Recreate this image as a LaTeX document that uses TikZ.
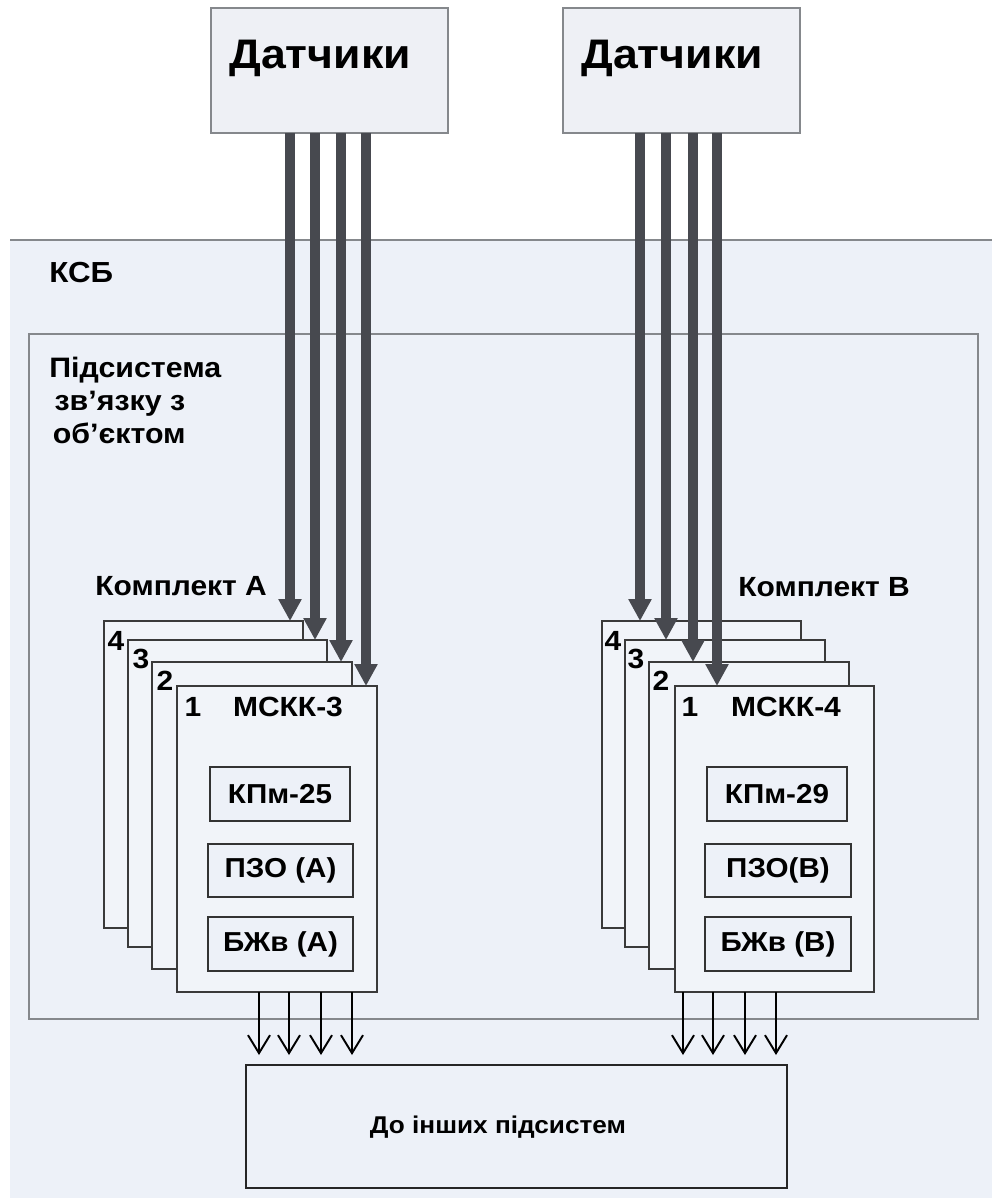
\documentclass[tikz,border=0pt]{standalone}
\usepackage{fontspec}
\setmainfont{Liberation Sans}[FakeStretch=1.08]
\usetikzlibrary{arrows.meta}
\definecolor{ksbfill}{HTML}{EDF1F8}
\definecolor{boxfill}{HTML}{EEF0F5}
\definecolor{cardfill}{HTML}{F1F4F9}
\definecolor{gline}{HTML}{85888C}
\definecolor{dk}{HTML}{47494F}
\definecolor{cardline}{HTML}{3A3A3A}
\newcommand{\rbox}[7]{\node[#1, minimum width={(#5-#3)*0.02cm}, minimum height={(#6-#4)*0.02cm}] (#2) at ({(#3+#5)/2},{(#4+#6)/2}) {#7};}
\tikzset{
  base/.style={inner sep=0pt, outer sep=0pt},
  ksb/.style={base, fill=ksbfill, draw=none},
  subsys/.style={base, draw=gline, line width=1.6pt},
  sensor/.style={base, draw=gline, line width=1.4pt, fill=boxfill},
  card/.style={base, draw=cardline, line width=0.9pt, fill=cardfill},
  inbox/.style={base, draw=black!80, line width=1.1pt, fill=ksbfill, font=\bfseries\fontsize{15.6}{18}\selectfont},
  outbox/.style={base, draw=black!85, line width=1.1pt},
  lbl/.style={inner sep=0pt, font=\bfseries\fontsize{15.8}{18}\selectfont},
  biglbl/.style={inner sep=0pt, font=\bfseries\fontsize{23.5}{28}\selectfont},
  bigarrow/.style={dk, line width=0.19cm, -{Triangle[length=0.44cm,width=0.44cm]}},
  outarrow/.style={black, line width=1.1pt, -{Straight Barb[length=0.36cm,width=0.44cm]}}
}
\begin{document}
\begin{tikzpicture}[x=0.02cm, y=-0.02cm]
\useasboundingbox (0,0) rectangle (992,1198);
\fill[white] (0,0) rectangle (992,1198);
% KSB region
\rbox{ksb}{ksbR}{10}{240}{992}{1198}{}
\draw[gline, line width=1.4pt] (ksbR.north west) -- (ksbR.north east);
\node[lbl, anchor=base west, font=\bfseries\fontsize{16.5}{18}\selectfont] (lKSB) at (49,282) {КСБ};
% subsystem
\rbox{subsys}{sub}{29}{334}{978}{1019}{}
\node[inner sep=0pt, anchor=base west, align=left, font=\bfseries\fontsize{16}{18.6}\selectfont] (lSub) at (49,443) {Підсистема\\\hspace*{3pt}зв’язку з\\\hspace*{2pt}об’єктом};
% sensors
\rbox{sensor}{dA}{211}{8}{448}{133}{}
\rbox{sensor}{dB}{563}{8}{800}{133}{}
\node[biglbl, anchor=base] (tA) at (320,68) {Датчики};
\node[biglbl, anchor=base] (tB) at (672,68) {Датчики};
% set A cards
\node[lbl, anchor=base west] (kA) at (95,595) {Комплект А};
\rbox{card}{c4A}{104}{621}{303}{928}{}
\node[lbl, anchor=base] (n4A) at (116,650) {4};
\rbox{card}{c3A}{128}{640}{327}{947}{}
\node[lbl, anchor=base] (n3A) at (141,668) {3};
\rbox{card}{c2A}{152}{662}{352}{969}{}
\node[lbl, anchor=base] (n2A) at (165,690) {2};
\rbox{card}{c1A}{177}{686}{377}{992}{}
\node[lbl, anchor=base] (n1A) at (193,716) {1};
\node[lbl, anchor=base] (mA) at (288,716) {МСКК-3};
\rbox{inbox}{k25}{210}{767}{350}{821}{КПм-25}
\rbox{inbox}{pA}{208}{844}{353}{897}{ПЗО (А)}
\rbox{inbox}{bA}{208}{917}{353}{971}{БЖв (А)}
% set B cards
\node[lbl, anchor=base west] (kB) at (738,596) {Комплект В};
\rbox{card}{c4B}{602}{621}{801}{928}{}
\node[lbl, anchor=base] (n4B) at (613,650) {4};
\rbox{card}{c3B}{625}{640}{825}{947}{}
\node[lbl, anchor=base] (n3B) at (636,668) {3};
\rbox{card}{c2B}{649}{662}{849}{969}{}
\node[lbl, anchor=base] (n2B) at (661,690) {2};
\rbox{card}{c1B}{675}{686}{874}{992}{}
\node[lbl, anchor=base] (n1B) at (690,716) {1};
\node[lbl, anchor=base] (mB) at (786,716) {МСКК-4};
\rbox{inbox}{k29}{707}{767}{847}{821}{КПм-29}
\rbox{inbox}{pB}{705}{844}{851}{897}{ПЗО(В)}
\rbox{inbox}{bB}{705}{917}{851}{971}{БЖв (В)}
% output box
\rbox{outbox}{out}{246}{1065}{787}{1188}{}
\node[lbl, anchor=center, font=\bfseries\fontsize{13.8}{16}\selectfont] (lOut) at (498,1127) {До інших підсистем};
% x positions of arrows
\coordinate (xa1) at (290,0); \coordinate (xa2) at (315,0);
\coordinate (xa3) at (341,0); \coordinate (xa4) at (366,0);
\coordinate (xb1) at (640,0); \coordinate (xb2) at (666,0);
\coordinate (xb3) at (693,0); \coordinate (xb4) at (717,0);
\draw[bigarrow] (dA.south -| xa1) -- (c4A.north -| xa1);
\draw[bigarrow] (dA.south -| xa2) -- (c3A.north -| xa2);
\draw[bigarrow] (dA.south -| xa3) -- (c2A.north -| xa3);
\draw[bigarrow] (dA.south -| xa4) -- (c1A.north -| xa4);
\draw[bigarrow] (dB.south -| xb1) -- (c4B.north -| xb1);
\draw[bigarrow] (dB.south -| xb2) -- (c3B.north -| xb2);
\draw[bigarrow] (dB.south -| xb3) -- (c2B.north -| xb3);
\draw[bigarrow] (dB.south -| xb4) -- (c1B.north -| xb4);
% output arrows
\coordinate (oa1) at (259,0); \coordinate (oa2) at (289,0);
\coordinate (oa3) at (321,0); \coordinate (oa4) at (352,0);
\coordinate (ob1) at (683,0); \coordinate (ob2) at (713,0);
\coordinate (ob3) at (745,0); \coordinate (ob4) at (776,0);
\foreach \c in {oa1,oa2,oa3,oa4}{
  \draw[outarrow] (c1A.south -| \c) -- ([yshift=0.2cm]out.north -| \c);
}
\foreach \c in {ob1,ob2,ob3,ob4}{
  \draw[outarrow] (c1B.south -| \c) -- ([yshift=0.2cm]out.north -| \c);
}
\end{tikzpicture}
\end{document}
